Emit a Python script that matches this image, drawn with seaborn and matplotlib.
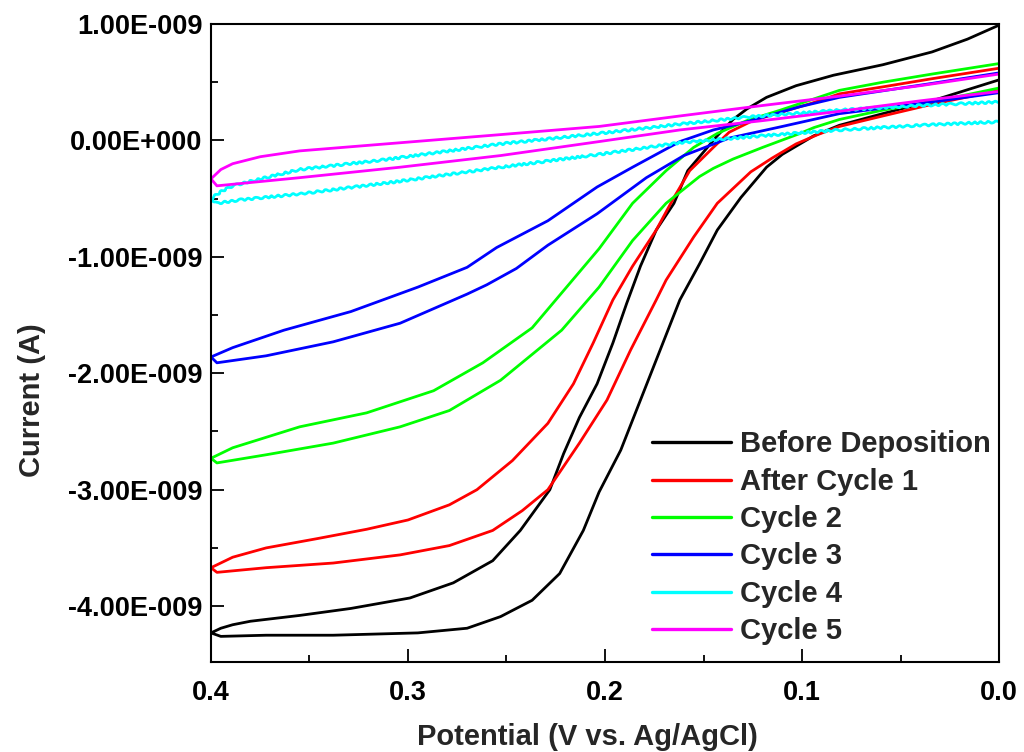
import numpy as np
import pandas as pd
import matplotlib
matplotlib.use('Agg')
import matplotlib.pyplot as plt
import matplotlib.colors as mcolors
from matplotlib.ticker import MultipleLocator, FuncFormatter
import seaborn as sns

# CV loops: potential (V vs Ag/AgCl), current in nA
# each loop runs 0.0 -> 0.4 V (lower branch) and back to 0.0 V (upper branch)
before_v = [0.000, 0.034, 0.059, 0.081, 0.094, 0.101, 0.110, 0.118, 0.131, 0.143, 0.152, 0.162, 0.172,
            0.182, 0.192, 0.203, 0.211, 0.223, 0.237, 0.253, 0.270, 0.295, 0.338, 0.372, 0.395, 0.400,
            0.395, 0.389, 0.380, 0.355, 0.329, 0.299, 0.277, 0.257, 0.243, 0.228, 0.221, 0.213, 0.204,
            0.196, 0.189, 0.182, 0.174, 0.165, 0.158, 0.150, 0.143, 0.135, 0.128, 0.118, 0.103, 0.084,
            0.059, 0.034, 0.016, 0.000]
before_i = [0.52, 0.34, 0.23, 0.13, 0.04, -0.03, -0.12, -0.23, -0.49, -0.77, -1.06, -1.37, -1.80,
            -2.23, -2.66, -3.02, -3.35, -3.72, -3.95, -4.09, -4.19, -4.23, -4.25, -4.25, -4.26, -4.23,
            -4.19, -4.16, -4.13, -4.08, -4.02, -3.93, -3.80, -3.61, -3.35, -3.00, -2.69, -2.38, -2.09,
            -1.74, -1.40, -1.08, -0.77, -0.54, -0.26, -0.10, 0.04, 0.18, 0.27, 0.37, 0.47, 0.56,
            0.65, 0.76, 0.87, 0.99]

cycle1_v = [0.000, 0.034, 0.059, 0.081, 0.092, 0.103, 0.115, 0.126, 0.143, 0.155, 0.169, 0.174, 0.187,
            0.199, 0.213, 0.229, 0.242, 0.257, 0.279, 0.304, 0.338, 0.372, 0.397, 0.400,
            0.389, 0.372, 0.346, 0.321, 0.300, 0.279, 0.265, 0.247, 0.229, 0.216, 0.206, 0.196, 0.186,
            0.174, 0.165, 0.157, 0.145, 0.137, 0.125, 0.111, 0.095, 0.081, 0.059, 0.034, 0.000]
cycle1_i = [0.43, 0.31, 0.21, 0.12, 0.05, -0.03, -0.15, -0.27, -0.54, -0.83, -1.20, -1.37, -1.80,
            -2.23, -2.60, -3.00, -3.18, -3.35, -3.48, -3.56, -3.63, -3.67, -3.71, -3.67,
            -3.58, -3.50, -3.42, -3.34, -3.26, -3.13, -3.00, -2.75, -2.43, -2.09, -1.74, -1.37, -1.08,
            -0.77, -0.49, -0.26, -0.06, 0.07, 0.17, 0.24, 0.32, 0.40, 0.46, 0.53, 0.62]

cycle2_v = [0.000, 0.034, 0.059, 0.081, 0.094, 0.101, 0.120, 0.135, 0.145, 0.152, 0.169, 0.186, 0.203,
            0.222, 0.253, 0.279, 0.304, 0.338, 0.372, 0.397, 0.400,
            0.389, 0.355, 0.321, 0.287, 0.262, 0.237, 0.219, 0.203, 0.186, 0.169, 0.155, 0.143, 0.128,
            0.111, 0.081, 0.059, 0.034, 0.000]
cycle2_i = [0.45, 0.33, 0.26, 0.18, 0.11, 0.06, -0.06, -0.16, -0.24, -0.31, -0.54, -0.86, -1.26,
            -1.63, -2.06, -2.32, -2.46, -2.60, -2.70, -2.77, -2.73,
            -2.64, -2.46, -2.34, -2.15, -1.91, -1.61, -1.25, -0.93, -0.54, -0.26, -0.06, 0.06, 0.17,
            0.26, 0.43, 0.50, 0.57, 0.66]

cycle3_v = [0.000, 0.034, 0.081, 0.110, 0.137, 0.160, 0.179, 0.204, 0.229, 0.245, 0.260, 0.270, 0.304,
            0.338, 0.372, 0.397, 0.400,
            0.389, 0.363, 0.329, 0.295, 0.270, 0.255, 0.229, 0.204, 0.186, 0.162, 0.145, 0.128, 0.101,
            0.081, 0.034, 0.000]
cycle3_i = [0.41, 0.33, 0.23, 0.12, 0.02, -0.13, -0.32, -0.63, -0.90, -1.10, -1.24, -1.32, -1.57,
            -1.73, -1.85, -1.91, -1.86,
            -1.78, -1.63, -1.47, -1.26, -1.09, -0.92, -0.69, -0.40, -0.23, -0.01, 0.09, 0.16, 0.29,
            0.37, 0.49, 0.58]

cycle4_v = [0.000, 0.040, 0.081, 0.120, 0.162, 0.203, 0.253, 0.304, 0.355, 0.385, 0.397, 0.400,
            0.395, 0.389, 0.370, 0.355, 0.314, 0.253, 0.203, 0.162, 0.128, 0.081, 0.040, 0.000]
cycle4_i = [0.16, 0.13, 0.09, 0.04, -0.02, -0.12, -0.23, -0.35, -0.46, -0.51, -0.54, -0.50,
            -0.44, -0.39, -0.31, -0.25, -0.17, -0.03, 0.06, 0.14, 0.20, 0.26, 0.30, 0.33]

cycle5_v = [0.000, 0.040, 0.081, 0.120, 0.162, 0.203, 0.253, 0.304, 0.355, 0.385, 0.397, 0.400,
            0.395, 0.389, 0.375, 0.355, 0.304, 0.253, 0.203, 0.162, 0.120, 0.081, 0.040, 0.000]
cycle5_i = [0.42, 0.34, 0.25, 0.17, 0.09, -0.01, -0.13, -0.23, -0.32, -0.37, -0.39, -0.33,
            -0.25, -0.20, -0.14, -0.09, -0.02, 0.05, 0.12, 0.21, 0.30, 0.38, 0.47, 0.57]

labels = ['Before Deposition', 'After Cycle 1', 'Cycle 2', 'Cycle 3', 'Cycle 4', 'Cycle 5']
colors = ['#000000', '#ff0000', '#00ff00', '#0000ff', '#00ffff', '#ff00ff']

all_v = [before_v, cycle1_v, cycle2_v, cycle3_v, cycle4_v, cycle5_v]
all_i = [before_i, cycle1_i, cycle2_i, cycle3_i, cycle4_i, cycle5_i]

frames = []
for name, v, i in zip(labels, all_v, all_i):
    frames.append(pd.DataFrame({'potential': v, 'current': np.array(i) * 1e-9, 'scan': name}))
df = pd.concat(frames, ignore_index=True)

sns.set_style('ticks')
plt.rcParams['font.family'] = ['Liberation Sans', 'DejaVu Sans']
plt.rcParams['font.weight'] = 'bold'

fig = plt.figure(figsize=(10.24, 7.52), dpi=100)
ax = fig.add_axes([211 / 1024, 1 - 662 / 752, 788 / 1024, 638 / 752])

sns.lineplot(data=df, x='potential', y='current', hue='scan', hue_order=labels,
             palette=dict(zip(labels, colors)), sort=False, estimator=None,
             lw=2.0, ax=ax)

# noisy look of the Cycle 4 trace
for line in ax.lines:
    if mcolors.to_hex(line.get_color()) == '#00ffff':
        line.set_sketch_params(1.0, 8, 2)

ax.set_xlim(0.4, 0.0)
ax.set_ylim(-4.48e-9, 1.0e-9)
ax.xaxis.set_major_locator(MultipleLocator(0.1))
ax.xaxis.set_minor_locator(MultipleLocator(0.05))
ax.yaxis.set_major_locator(MultipleLocator(1e-9))
ax.yaxis.set_minor_locator(MultipleLocator(0.5e-9))


def sci_fmt(val, pos):
    m, e = f'{val:.2E}'.split('E')
    e = int(e)
    return f"{m}E{'-' if e < 0 else '+'}{abs(e):03d}"


ax.yaxis.set_major_formatter(FuncFormatter(sci_fmt))
ax.xaxis.set_major_formatter(FuncFormatter(lambda v, p: f'{abs(v):.1f}'))

for s in ax.spines.values():
    s.set_linewidth(1.5)
    s.set_color('black')
ax.tick_params(which='both', direction='in', top=False, right=False, width=1.3, colors='black')
ax.tick_params(which='major', length=9.5, labelsize=19.5)
ax.tick_params(which='minor', length=5)
ax.tick_params(axis='x', which='major', pad=13)
ax.tick_params(axis='y', which='major', pad=6)
for t in ax.get_xticklabels() + ax.get_yticklabels():
    t.set_fontweight('bold')

ax.set_xlabel('Potential (V vs. Ag/AgCl)', fontsize=21, fontweight='bold')
ax.set_ylabel('Current (A)', fontsize=21, fontweight='bold')
ax.xaxis.set_label_coords(0.478, -0.095)
ax.yaxis.set_label_coords(-0.209, 0.41)

handles, lbls = ax.get_legend_handles_labels()
leg = ax.legend(handles, lbls, frameon=False, fontsize=21, handlelength=2.7,
                handletextpad=0.3, labelspacing=0.32, loc='upper left',
                bbox_to_anchor=(0.56, 0.363), borderpad=0, borderaxespad=0)
for ln in leg.get_lines():
    ln.set_sketch_params(None)
    ln.set_linewidth(2.4)

fig.savefig('out.png', dpi=100)
